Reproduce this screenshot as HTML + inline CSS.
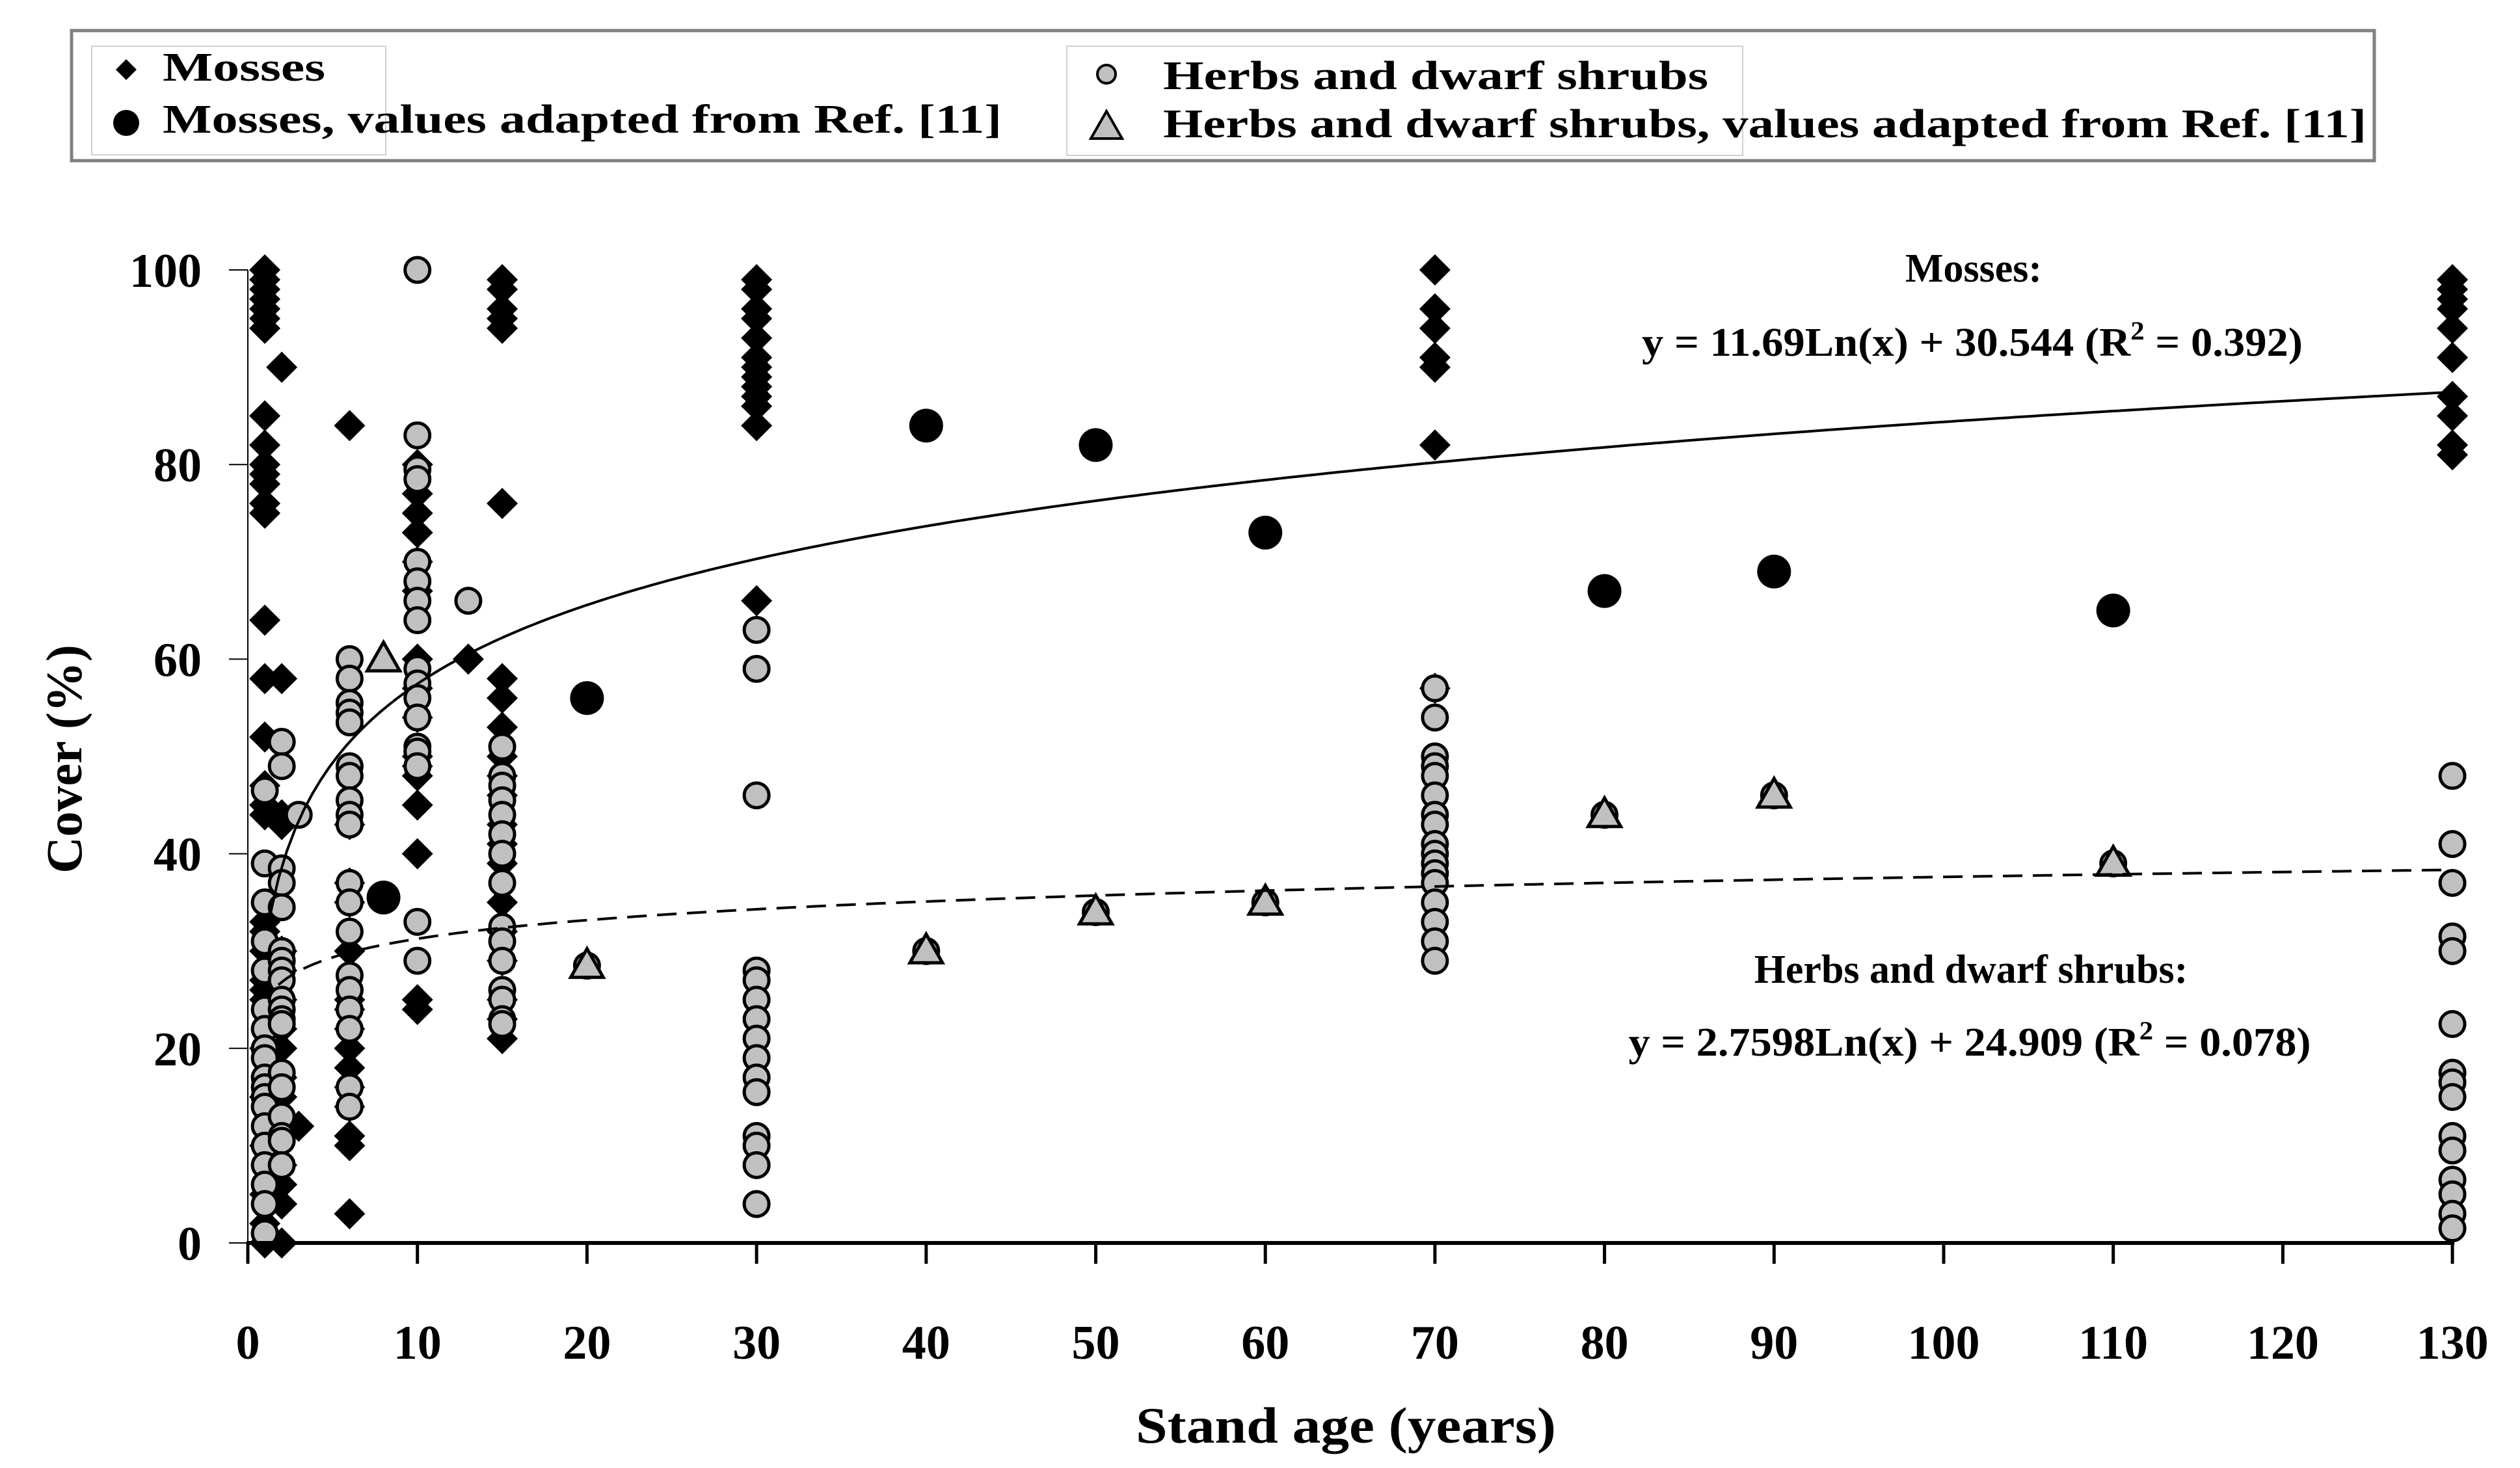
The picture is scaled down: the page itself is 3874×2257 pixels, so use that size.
<!DOCTYPE html>
<html><head><meta charset="utf-8"><style>
html,body{margin:0;padding:0;background:#fff;}
svg{display:block;font-family:"Liberation Serif",serif;font-weight:bold;}
</style></head><body>
<svg id="chart" width="3874" height="2257" viewBox="0 0 3874 2257" xmlns="http://www.w3.org/2000/svg">
<rect width="3874" height="2257" fill="#fff"/>
<g id="legend">
  <rect x="110" y="47" width="3540" height="200" fill="#fff" stroke="#808080" stroke-width="5"/>
  <rect x="141" y="71" width="452" height="167" fill="none" stroke="#d0d0d0" stroke-width="2"/>
  <rect x="1640" y="71" width="1039" height="168" fill="none" stroke="#d0d0d0" stroke-width="2"/>
  <g>
    <polygon points="194,91 210,107 194,123 178,107" fill="#000"/>
    <text x="250" y="124" font-size="62" textLength="250" lengthAdjust="spacingAndGlyphs">Mosses</text>
  </g>
  <g>
    <circle cx="194" cy="189" r="20" fill="#000"/>
    <text x="250" y="204" font-size="62" textLength="1290" lengthAdjust="spacingAndGlyphs">Mosses, values adapted from Ref. [11]</text>
  </g>
  <g>
    <circle cx="1701" cy="114" r="14" fill="#c0c0c0" stroke="#000" stroke-width="4"/>
    <text x="1788" y="137" font-size="62" textLength="838" lengthAdjust="spacingAndGlyphs">Herbs and dwarf shrubs</text>
  </g>
  <g>
    <polygon points="1701,171 1725,213 1677,213" fill="#c0c0c0" stroke="#000" stroke-width="4"/>
    <text x="1788" y="211" font-size="62" textLength="1850" lengthAdjust="spacingAndGlyphs">Herbs and dwarf shrubs, values adapted from Ref. [11]</text>
  </g>
</g>
<g id="marks"></g>
<g id="axes"></g>
<text x="0" y="0" font-size="78" text-anchor="middle" transform="translate(125,1167) rotate(-90)">Cover (%)</text>
<text x="2069" y="2218" font-size="78" text-anchor="middle" textLength="646" lengthAdjust="spacingAndGlyphs">Stand age (years)</text>
<text x="3034" y="433" font-size="62" text-anchor="middle">Mosses:</text>
<text x="3032" y="547" font-size="62" text-anchor="middle" textLength="1016" lengthAdjust="spacingAndGlyphs">y = 11.69Ln(x) + 30.544 (R<tspan dy="-25" font-size="40">2</tspan><tspan dy="25"> = 0.392)</tspan></text>
<text x="3030" y="1511" font-size="62" text-anchor="middle">Herbs and dwarf shrubs:</text>
<text x="3028" y="1623" font-size="62" text-anchor="middle" textLength="1049" lengthAdjust="spacingAndGlyphs">y = 2.7598Ln(x) + 24.909 (R<tspan dy="-25" font-size="40">2</tspan><tspan dy="25"> = 0.078)</tspan></text>
</svg>
<script>
const xTicks = [0,10,20,30,40,50,60,70,80,90,100,110,120,130];
const yTicks = [0,20,40,60,80,100];
const mossesX = [1,1,1,1,1,1,1,1,1,1,1,1,1,1,1,1,1,1,1,1,1,1,1,1,1,1,1,1,1,1,1,1,
  2,2,2,2,2,2,2,2,2,2,2,2,2,2,2,3,
  6,6,6,6,6,6,6,6,6,6,6,6,6,6,6,
  10,10,10,10,10,10,10,10,10,10,10,10,10,10,10,10,13,
  15,15,15,15,15,15,15,15,15,15,15,15,15,15,15,15,15,15,15,15,15,
  30,30,30,30,30,30,30,30,30,30,30,30,30,
  70,70,70,70,70,70,70,
  130,130,130,130,130,130,130,130,130,130];
const mossesY = [100,99,98,97,96,95,94,85,82,80,79,78,76,75,64,58,52,47,45,44,33,32,30,27,26,25,20,15,10,5,2,0,
  90,58,44,43,30,28,25,22,20,17,15,8,6,4,0,12,
  84,43,37,35,30,25,24,22,20,18,16,14,11,10,3,
  80,77,75,73,70,67,60,57,54,50,49,48,45,40,25,24,60,
  99,98,96,95,94,76,58,56,53,50,48,46,43,41,39,35,32,29,25,23,21,
  99,98,96,95,93,91,90,89,88,87,86,84,66,
  100,96,94,91,90,82,57,
  99,98,97,96,94,91,87,85,82,81];
const herbsX = [1,1,1,1,1,1,1,1,1,1,1,1,1,1,1,1,1,1,1,
  2,2,2,2,2,2,2,2,2,2,2,2,2,2,2,2,2,2,2,3,
  6,6,6,6,6,6,6,6,6,6,6,6,6,6,6,6,6,6,6,
  10,10,10,10,10,10,10,10,10,10,10,10,10,10,10,10,10,13,
  15,15,15,15,15,15,15,15,15,15,15,15,15,15,15,
  30,30,30,30,30,30,30,30,30,30,30,30,30,30,30,
  70,70,70,70,70,70,70,70,70,70,70,70,70,70,70,70,70,
  130,130,130,130,130,130,130,130,130,130,130,130,130,130,130,
  80,90,110,40,50,60,20];
const herbsY = [46.5,39,35,31,28,24,22,20,19,17,16,15,14,12,10,8,6,4,1,
  51.5,49,38.5,37,34.5,30,29,28,27,25,24,23,22.5,17.5,16,13,11,10.5,8,44,
  60,58,55.5,54.5,53.5,49,48,45.5,44,43,37,35,32,27.5,26,24,22,16,14,
  100,83,79.5,78.5,70,68,66,64,59,57.5,56,54,51,50.5,49,33,29,66,
  51,48,47,45.5,44,42,40,37,32.5,31,29,26,25,23,22.5,
  63,59,46,28,27,25,23,21,19,17,15.5,11,10,8,4,
  57,54,50,49,48,46,44,43,41,40,39,38,37,35,33,31,29,
  48,41,37,31.5,30,22.5,17.5,16.5,15,11,9.5,6.5,5,3,1.5,
  44,46,39,30,34,35,28.5];
const mossesRefX = [8,20,40,50,60,80,90,110];
const mossesRefY = [35.5,56,84,82,73,67,69,65];
const herbsRefX = [8,20,40,50,60,80,90,110];
const herbsRefY = [60,28.5,30,34,35,44,46,39];
const mossesFit = [11.69, 30.544];
const herbsFit = [2.7598, 24.909];

const NS = 'http://www.w3.org/2000/svg';
const X0 = 381, XS = 26.07, Y0 = 1911, YS = 14.96;
function sx(v){ return X0 + v*XS; }
function sy(v){ return Y0 - v*YS; }
function mk(tag, attrs, parent){
  const el = document.createElementNS(NS, tag);
  for (const k in attrs) el.setAttribute(k, attrs[k]);
  parent.appendChild(el);
  return el;
}
const marks = document.getElementById('marks');
const axes = document.getElementById('axes');

const gM = mk('g', {}, marks);


for (let i = 0; i < mossesX.length; i++) {
  const cx = sx(mossesX[i]), cy = sy(mossesY[i]), h = 24;
  const p = mk('polygon', {points: `${cx},${cy-h} ${cx+h},${cy} ${cx},${cy+h} ${cx-h},${cy}`, fill: '#000'}, gM);
  
  
}
const gH = mk('g', {}, marks);


for (let i = 0; i < herbsX.length; i++) {
  const c = mk('circle', {cx: sx(herbsX[i]), cy: sy(herbsY[i]), r: 19, fill: '#c0c0c0', stroke: '#000', 'stroke-width': 5}, gH);
  
  
}
const gMR = mk('g', {}, marks);


for (let i = 0; i < mossesRefX.length; i++) {
  const c = mk('circle', {cx: sx(mossesRefX[i]), cy: sy(mossesRefY[i]), r: 26, fill: '#000'}, gMR);
  
  
}
const gHR = mk('g', {}, marks);


for (let i = 0; i < herbsRefX.length; i++) {
  const cx = sx(herbsRefX[i]), cy = sy(herbsRefY[i]);
  const t = mk('polygon', {points: `${cx},${cy-26} ${cx+25},${cy+18} ${cx-25},${cy+18}`, fill: '#c0c0c0', stroke: '#000', 'stroke-width': 5}, gHR);
  
  
}
function fitPath(f, x0){
  let d = '';
  for (let x = x0; x <= 130; x += 0.5) {
    const y = f[0]*Math.log(x) + f[1];
    d += (d ? ' L' : 'M') + sx(x).toFixed(1) + ',' + sy(y).toFixed(1);
  }
  return d;
}
const l1 = mk('path', {d: fitPath(mossesFit, 1.3), fill: 'none', stroke: '#000', 'stroke-width': 4}, marks);


const l2 = mk('path', {d: fitPath(herbsFit, 1.8), fill: 'none', stroke: '#000', 'stroke-width': 4, 'stroke-dasharray': '30,16'}, marks);



const ya = mk('line', {x1: X0, y1: sy(100), x2: X0, y2: Y0, stroke: '#000', 'stroke-width': 2}, axes);


const xa = mk('line', {x1: X0-2, y1: Y0, x2: sx(130)+3, y2: Y0, stroke: '#000', 'stroke-width': 6}, axes);


for (const v of yTicks) {
  const t = mk('line', {x1: 352, y1: sy(v), x2: X0, y2: sy(v), stroke: '#000', 'stroke-width': 2}, axes);
  
  
  const lb = mk('text', {x: 310, y: sy(v)+26, 'font-size': 74, 'text-anchor': 'end'}, axes);
  lb.textContent = v;
  
  
}
for (const v of xTicks) {
  const t = mk('line', {x1: sx(v), y1: Y0, x2: sx(v), y2: 1943, stroke: '#000', 'stroke-width': 5}, axes);
  
  
  const lb = mk('text', {x: sx(v), y: 2089, 'font-size': 74, 'text-anchor': 'middle'}, axes);
  lb.textContent = v;
  
  
}
</script>
</body></html>
